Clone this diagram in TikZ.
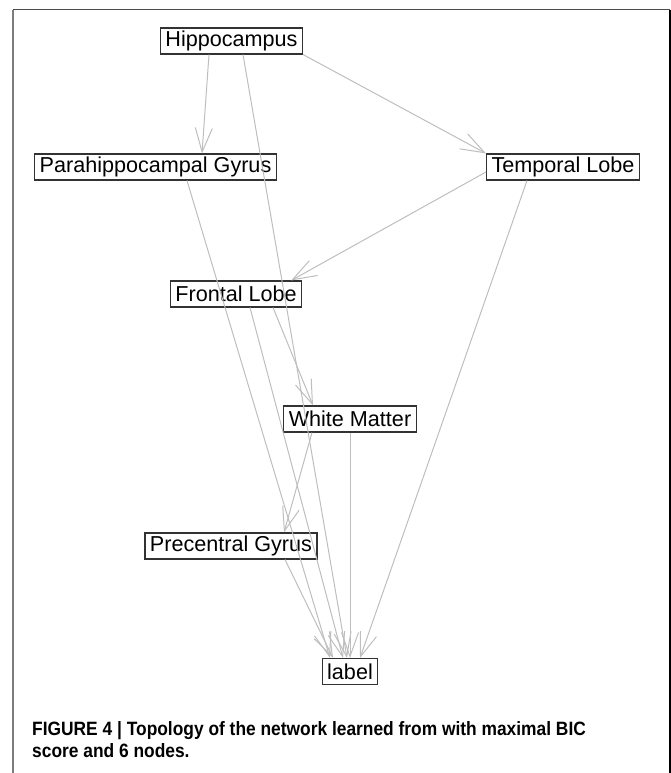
\documentclass[tikz,border=0pt]{standalone}
\usepackage{fontspec}
\setmainfont{Liberation Sans}
\newfontfamily\capfont[FakeStretch=0.9]{Liberation Sans}
\usetikzlibrary{arrows.meta}
\definecolor{EdgeGray}{RGB}{190,190,190}
\definecolor{BoxGray}{RGB}{50,50,50}
\definecolor{FrameGray}{RGB}{125,125,125}
\tikzset{
  var/.style={draw=BoxGray,line width=1.1pt,font=\fontsize{21.6}{24}\selectfont,minimum height=26pt,inner xsep=5pt,inner ysep=0pt},
  edge/.style={draw=EdgeGray,line width=1pt,-{Straight Barb[length=24pt,width=17pt]}},
}
\begin{document}
\begin{tikzpicture}[x=1pt,y=-1pt]
  \useasboundingbox (0,0) rectangle (671,773);
  % frame
  \draw[FrameGray,line width=2pt] (13,10) -- (13,773);
  \draw[black!70,line width=1pt] (13,10) -- (670,10);
  \draw[black,line width=1.2pt] (670,10) -- (670,773);
  % variables
  \node[var] (hippo) at (231.5,41) {Hippocampus};
  \node[var] (parahip) at (155.5,167) {Parahippocampal Gyrus};
  \node[var] (temporal) at (563,167) {Temporal Lobe};
  \node[var] (frontal) at (236,294) {Frontal Lobe};
  \node[var] (white) at (350,419) {White Matter};
  \node[var] (precentral) at (231,546) {Precentral Gyrus};
  \node[var] (lbl) at (350,671.5) {label};
  % arcs
  \draw[edge] ([xshift=-22.5pt]hippo.south) -- ([xshift=46.5pt]parahip.north);
  \draw[edge] ([xshift=11.5pt]hippo.south) -- ([xshift=-3pt]lbl.north);
  \draw[edge] (hippo.south east) -- (temporal.north west);
  \draw[edge] ([xshift=31.5pt]parahip.south) -- ([xshift=-20pt]lbl.north);
  \draw[edge] ([yshift=-5pt]temporal.west) -- ([xshift=-11pt]frontal.north east);
  \draw[edge] ([xshift=-36pt]temporal.south) -- ([xshift=10pt]lbl.north);
  \draw[edge] ([xshift=37pt]frontal.south) -- ([xshift=-37pt]white.north);
  \draw[edge] ([xshift=14pt]frontal.south) -- ([xshift=-7pt]lbl.north);
  \draw[edge] ([xshift=-38pt]white.south) -- ([xshift=53pt]precentral.north);
  \draw[edge] (white.south) -- (lbl.north);
  \draw[edge] ([xshift=54pt]precentral.south) -- ([xshift=-17pt]lbl.north);
  % caption
  \node[anchor=north west,align=left,inner sep=0pt,font=\capfont\bfseries\fontsize{19.3}{22}\selectfont] (caption) at (32,721) {FIGURE 4 | Topology of the network learned from with maximal BIC\\score and 6 nodes.};
\end{tikzpicture}
\end{document}
